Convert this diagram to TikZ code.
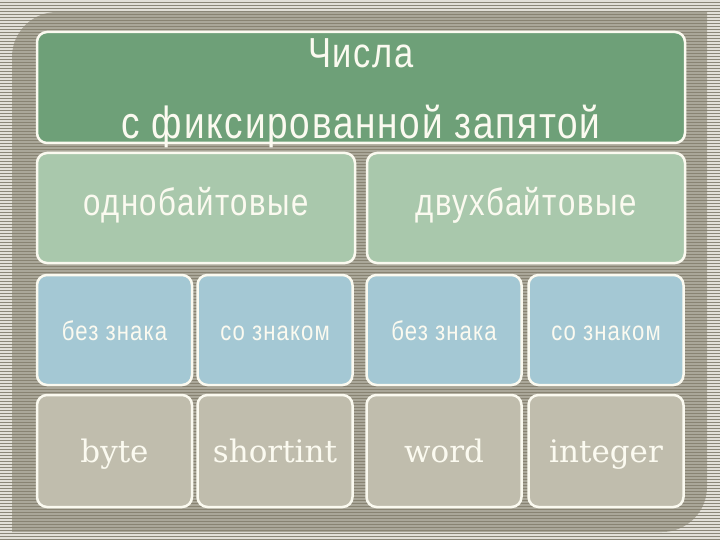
\documentclass[tikz,border=0pt]{standalone}
\usepackage{fontspec}
\newfontfamily\narrowsans[FakeStretch=0.82,LetterSpace=4]{Liberation Sans}
\newfontfamily\slabserif{DejaVu Serif}
\definecolor{stripelight}{HTML}{E2E0D8}
\definecolor{stripedark}{HTML}{8B8778}
\definecolor{panelgray}{HTML}{86816F}
\definecolor{rimwhite}{HTML}{FBFAF0}
\definecolor{titlegreen}{HTML}{6EA078}
\definecolor{sizegreen}{HTML}{A9C8AC}
\definecolor{signblue}{HTML}{A4C8D4}
\definecolor{typegray}{HTML}{C0BDAD}
\tikzset{
  cell/.style={draw=rimwhite, line width=2.5pt, rounded corners=10pt,
    minimum height=110pt, inner sep=0pt, text=rimwhite, text depth=0pt},
  celltext/.style={text=rimwhite, inner sep=0pt},
}
\begin{document}
\begin{tikzpicture}[x=1pt,y=-1pt]
	\useasboundingbox (0,0) rectangle (720,540);
	\fill[stripedark] (0,0) rectangle (720,540);
	\foreach \y in {1,4,...,540}
		\draw[stripelight, line width=1.4pt] (0,\y) -- (720,\y);
	% darker panel behind the boxes
	\fill[panelgray, opacity=0.6] (12,60) [rounded corners=45pt] -- (12,12) [sharp corners] -- (707,12)
		[rounded corners=45pt] -- (707,532) [sharp corners] -- (12,532) -- cycle;
	% title
	\node[cell, fill=titlegreen, minimum width=648pt, minimum height=111pt] (title) at (361,87.5) {};
	\node[celltext, anchor=base, font=\narrowsans\fontsize{42}{44}\selectfont] (line1) at (361,68) {Числа};
	\node[celltext, anchor=base, font=\narrowsans\fontsize{45}{47}\selectfont] (line2) at (361,139) {с фиксированной запятой};
	% bytes
	\node[cell, fill=sizegreen, minimum width=318pt, text height=14pt, font=\narrowsans\fontsize{38}{40}\selectfont] (onebyte) at (196,208) {однобайтовые};
	\node[cell, fill=sizegreen, minimum width=318pt, text height=14pt, font=\narrowsans\fontsize{38}{40}\selectfont] (twobyte) at (526,208) {двухбайтовые};
	% sign
	\foreach \x/\name/\txt in {114.5/sign1/без знака, 275/sign2/со знаком, 444/sign3/без знака, 606/sign4/со знаком}
		\node[cell, fill=signblue, minimum width=155pt, text height=20pt, font=\narrowsans\fontsize{27}{29}\selectfont] (\name) at (\x,330) {\txt};
	% types
	\foreach \x/\name/\txt in {114.5/byte/byte, 275/shortint/shortint, 444/word/word, 606/integer/integer}
		\node[cell, fill=typegray, minimum width=155pt, minimum height=112pt, text height=22pt, font=\slabserif\fontsize{31}{33}\selectfont] (\name) at (\x,451) {\txt};
\end{tikzpicture}
\end{document}
